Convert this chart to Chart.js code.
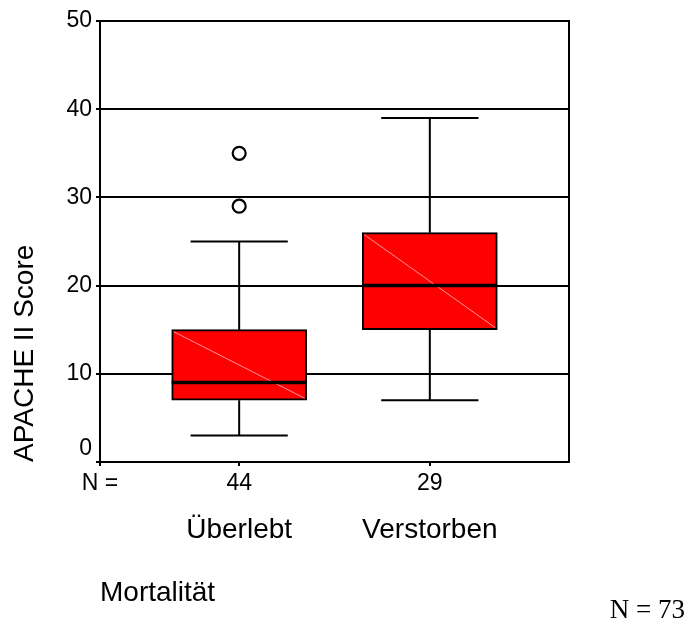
<!DOCTYPE html>
<html>
<head>
<meta charset="utf-8">
<script src="https://cdn.jsdelivr.net/npm/chart.js@4"></script>
<style>
  html, body { margin: 0; padding: 0; background: #fff; }
  #wrap { width: 687px; height: 627px; position: relative; }
</style>
</head>
<body>
<div id="wrap"><canvas id="c"></canvas></div>
<script>
// Groups and their sizes
const categories = ['Überlebt', 'Verstorben'];
const groupSizes = [44, 29];

// Five-number summaries of the APACHE II score per group
const whiskerLow  = [3, 7];
const quartile1   = [7, 15];
const medians     = [9, 20];
const quartile3   = [15, 26];
const whiskerHigh = [25, 39];
const outliers    = [[29, 35], []];

// Value axis ticks
const yTicks = [0, 10, 20, 30, 40, 50];

const positions = categories.map((_, i) => i + 1);
const X_MIN = 0.27, X_MAX = 2.73;
const SANS = "'Liberation Sans', Arial, Helvetica, sans-serif";
const SERIF = "'Liberation Serif', 'Times New Roman', serif";

const outlierPoints = [];
outliers.forEach((vals, i) => vals.forEach(v => outlierPoints.push({ x: positions[i], y: v })));

// Whiskers, caps and median lines on top of the box bars
const boxWhiskers = {
  id: 'boxWhiskers',
  afterDatasetsDraw(chart) {
    const { ctx } = chart;
    const y = chart.scales.y;
    const meta = chart.getDatasetMeta(0);
    ctx.save();
    meta.data.forEach((bar, i) => {
      const p = bar.getProps(['x', 'width'], true);
      const cx = p.x, half = p.width / 2;
      const left = cx - half, right = cx + half;
      const capHalf = half * 0.72;
      const yLo = y.getPixelForValue(whiskerLow[i]);
      const yQ1 = y.getPixelForValue(quartile1[i]);
      const yMed = y.getPixelForValue(medians[i]);
      const yQ3 = y.getPixelForValue(quartile3[i]);
      const yHi = y.getPixelForValue(whiskerHigh[i]);

      // faint diagonal sheen across the box
      ctx.strokeStyle = 'rgba(255,175,175,0.85)';
      ctx.lineWidth = 1;
      ctx.beginPath();
      ctx.moveTo(left + 2, yQ3 + 2);
      ctx.lineTo(right - 2, yQ1 - 2);
      ctx.stroke();

      ctx.strokeStyle = '#000';
      ctx.lineWidth = 2;
      ctx.beginPath();
      ctx.moveTo(cx, yQ3); ctx.lineTo(cx, yHi);
      ctx.moveTo(cx, yQ1); ctx.lineTo(cx, yLo);
      ctx.moveTo(cx - capHalf, yHi); ctx.lineTo(cx + capHalf, yHi);
      ctx.moveTo(cx - capHalf, yLo); ctx.lineTo(cx + capHalf, yLo);
      ctx.stroke();

      ctx.lineWidth = 3.5;
      ctx.beginPath();
      ctx.moveTo(left, yMed); ctx.lineTo(right, yMed);
      ctx.stroke();
    });
    ctx.restore();
  }
};

// Frame around the plot area
const plotFrame = {
  id: 'plotFrame',
  beforeDatasetsDraw(chart) {
    const { ctx, chartArea: a } = chart;
    ctx.save();
    ctx.strokeStyle = '#000';
    ctx.lineWidth = 2;
    ctx.strokeRect(a.left, a.top, a.right - a.left, a.bottom - a.top);
    ctx.restore();
  }
};

// Total sample size in the lower right corner
const totalNote = {
  id: 'totalNote',
  afterDraw(chart) {
    const { ctx, width } = chart;
    const total = groupSizes.reduce((s, v) => s + v, 0);
    ctx.save();
    ctx.fillStyle = '#000';
    ctx.font = '27px ' + SERIF;
    ctx.textAlign = 'right';
    ctx.textBaseline = 'alphabetic';
    ctx.fillText('N = ' + total, width - 2, 618);
    ctx.restore();
  }
};

new Chart(document.getElementById('c'), {
  type: 'bar',
  data: {
    datasets: [
      {
        data: positions.map((p, i) => ({ x: p, y: [quartile1[i], quartile3[i]] })),
        backgroundColor: '#ff0000',
        borderColor: '#000',
        borderWidth: 2,
        borderSkipped: false,
        barThickness: 135,
        xAxisID: 'x',
        yAxisID: 'y'
      },
      {
        type: 'line',
        data: outlierPoints,
        showLine: false,
        pointRadius: 6.5,
        pointHoverRadius: 6.5,
        pointBorderWidth: 2.2,
        pointBorderColor: '#000',
        pointBackgroundColor: '#fff',
        xAxisID: 'x',
        yAxisID: 'y'
      }
    ]
  },
  options: {
    responsive: true,
    maintainAspectRatio: false,
    animation: false,
    events: [],
    layout: { padding: { top: 21, right: 118, bottom: 0, left: 0 } },
    plugins: { legend: { display: false }, tooltip: { enabled: false } },
    scales: {
      x: {
        type: 'linear', position: 'bottom', weight: 0, offset: false,
        min: X_MIN, max: X_MAX,
        afterBuildTicks: s => { s.ticks = [X_MIN, ...positions].map(v => ({ value: v })); },
        ticks: {
          color: '#000', font: { family: SANS, size: 23 }, padding: 4,
          autoSkip: false, maxRotation: 0,
          callback: (v, i) => i === 0 ? 'N =' : String(groupSizes[i - 1])
        },
        grid: { offset: false, drawOnChartArea: false, color: '#000', lineWidth: 2, tickLength: 4 },
        border: { color: '#000', width: 2 },
        afterFit: s => { s.height = 37; }
      },
      x2: {
        type: 'linear', position: 'bottom', weight: 1, offset: false,
        min: X_MIN, max: X_MAX,
        afterBuildTicks: s => { s.ticks = positions.map(v => ({ value: v })); },
        ticks: {
          color: '#000', font: { family: SANS, size: 28 }, padding: 6,
          autoSkip: false, maxRotation: 0,
          callback: (v, i) => categories[i]
        },
        grid: { display: false, offset: false },
        border: { display: false },
        title: {
          display: true, text: 'Mortalität', align: 'start', color: '#000',
          font: { family: SANS, size: 28 }, padding: { top: 0, bottom: 17 }
        },
        afterFit: s => { s.height = 128; }
      },
      y: {
        min: 0, max: 50,
        afterBuildTicks: s => { s.ticks = yTicks.map(v => ({ value: v })); },
        ticks: {
          color: '#000', font: { family: SANS, size: 23 }, padding: 4,
          // the zero label sits a little above the corner, clear of the group counts
          callback: v => v === 0 ? [String(v), ''] : String(v)
        },
        grid: { color: '#000', lineWidth: 2, tickLength: 4 },
        border: { color: '#000', width: 2 },
        title: {
          display: true, text: 'APACHE II Score', align: 'start', color: '#000',
          font: { family: SANS, size: 28 }, padding: { top: 8, bottom: 0 }
        },
        afterFit: s => { s.width = 100; }
      }
    }
  },
  plugins: [plotFrame, boxWhiskers, totalNote]
});
</script>
</body>
</html>
